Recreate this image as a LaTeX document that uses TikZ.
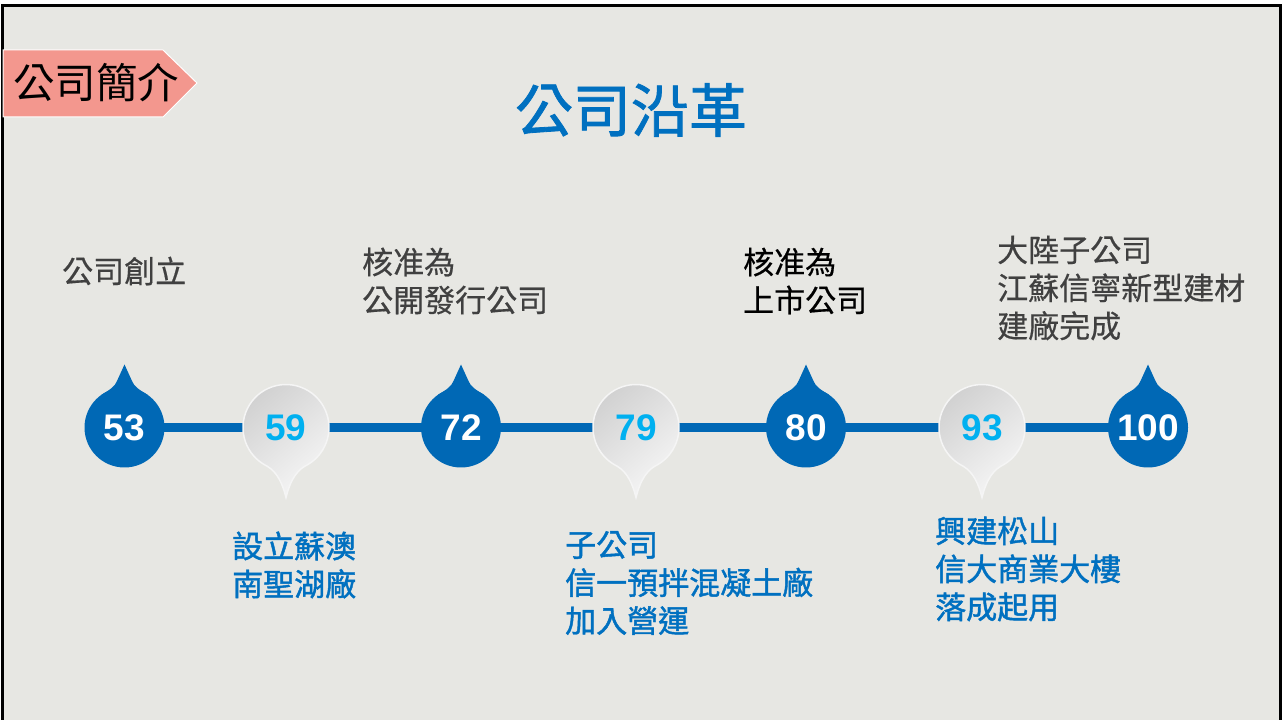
\documentclass[tikz,border=0pt]{standalone}
\usepackage{fontspec}
\setmainfont{Liberation Sans}
\newfontfamily\cjkthin{Noto Sans CJK TC}
\newfontfamily\cjk{Noto Sans CJK TC}[FakeBold=0.5]
\newfontfamily\cjkmid{Noto Sans CJK TC}[FakeBold=1.4]
\usetikzlibrary{calc}
\definecolor{tlblue}{RGB}{0,104,181}
\definecolor{numblue}{RGB}{0,176,240}
\definecolor{noteblue}{RGB}{0,112,192}
\definecolor{notegrey}{RGB}{64,64,64}
\definecolor{paper}{RGB}{231,231,227}
\definecolor{tabred}{RGB}{243,151,142}
\definecolor{pinlight}{RGB}{247,247,247}
\definecolor{pindark}{RGB}{208,208,208}

\begin{document}
\begin{tikzpicture}[x=1pt, y=1pt,
    num/.style={inner sep=0pt, font=\bfseries\fontsize{37}{37}\selectfont},
    note/.style={anchor=west, align=left, inner sep=0pt, font=\cjk\fontsize{31}{38}\selectfont},
    bluenote/.style={note, text=noteblue, font=\cjkmid\fontsize{31}{38}\selectfont}]
    \useasboundingbox (0,0) rectangle (1285,720);
    \fill[white] (0,0) rectangle (1285,720);
    \draw[line width=2.5pt, fill=paper] (2.5,714.5) rectangle (1280.5,-10);

    \draw[fill=tabred, draw=white, line width=1pt] (3,670) -- (163,670) -- (197,637) -- (163,603) -- (3,603) -- cycle;
    \node[anchor=west, inner sep=0pt, font=\cjkthin\fontsize{41.5}{42}\selectfont] (tab) at (13,637) {公司簡介};
    \node[text=noteblue, font=\cjkmid\fontsize{58}{60}\selectfont] (title) at (631,610) {公司沿革};

    \foreach \n/\x in {53/124.5, 59/286, 72/461, 79/636, 80/806, 93/982, 100/1148}
        \coordinate (c\n) at (\x,292.5);
    \draw[line width=9pt, tlblue] (c53) -- (c100);

    \foreach \n in {53, 72, 80, 100} {
        \begin{scope}[shift={(c\n)}]
            \fill[tlblue] (0,0) circle (40);
            \fill[tlblue] (-23,32.7) .. controls (-15,37.5) and (-9.5,41) .. (-7.5,46.5) -- (0,63)
                -- (7.5,46.5) .. controls (9.5,41) and (15,37.5) .. (23,32.7) -- (0,0) -- cycle;
        \end{scope}
        \node[num, white] (n\n) at (c\n) {\n};
    }
    \foreach \n in {59, 79, 93} {
        \begin{scope}[shift={(c\n)}]
            \shade[top color=pindark, bottom color=pinlight, shading angle=40, draw=white!92!gray, line width=1.5pt]
                (0,-70) .. controls (-3,-58) and (-8,-45) .. (-19,-38.6)
                arc[start angle=243.8, end angle=-63.8, radius=43]
                .. controls (8,-45) and (3,-58) .. (0,-70) -- cycle;
        \end{scope}
        \node[num, numblue] (n\n) at (c\n) {\n};
    }

    \node[note, text=notegrey] (t53) at (62,449) {公司創立};
    \node[note, text=notegrey] (t72) at (362,439) {核准為\\公開發行公司};
    \node[note, text=black] (t80) at (743,439) {核准為\\上市公司};
    \node[note, text=notegrey] (t100) at (997,432) {大陸子公司\\江蘇信寧新型建材\\建廠完成};
    \node[bluenote] (b59) at (232,155) {設立蘇澳\\南聖湖廠};
    \node[bluenote] (b79) at (565,137) {子公司\\信一預拌混凝土廠\\加入營運};
    \node[bluenote] (b93) at (935,151) {興建松山\\信大商業大樓\\落成起用};
\end{tikzpicture}
\end{document}
